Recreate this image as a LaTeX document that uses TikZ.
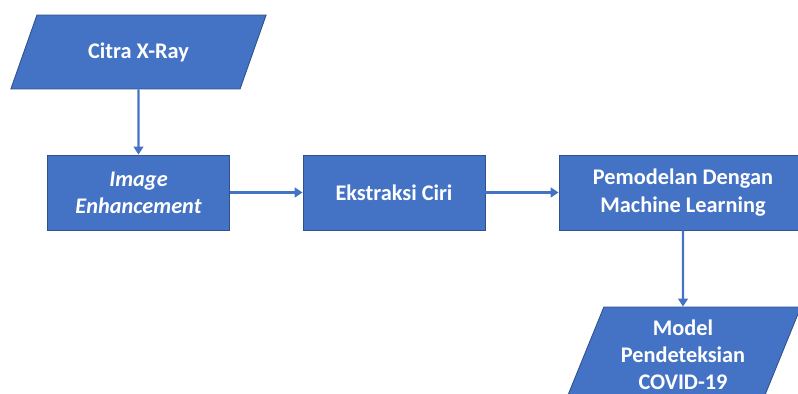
\documentclass[tikz,border=0pt]{standalone}
\usepackage{fontspec}
\setmainfont{Carlito}
\usetikzlibrary{shapes.geometric,arrows.meta}
\definecolor{boxblue}{HTML}{4472C4}
\definecolor{edgeblue}{HTML}{2F528F}

\begin{document}
\begin{tikzpicture}[x=0.02cm, y=-0.02cm,
		proses/.style={rectangle, draw=edgeblue, fill=boxblue, line width=0.5pt, text=white,
			font=\fontsize{12.7}{15.5}\selectfont\bfseries, align=center,
			minimum width=3.64cm, minimum height=1.5cm, inner sep=0pt},
		io/.style={proses, trapezium, trapezium stretches=true},
		panah/.style={draw=boxblue, line width=1.4pt, -{Triangle[length=4.5pt,width=5.5pt]}}]
	\useasboundingbox (0,0) rectangle (798,394);
	\clip (0,0) rectangle (798,394);
		% masukan
		\node[io, trapezium left angle=56, trapezium right angle=124, minimum width=5.14cm, minimum height=1.48cm] (citra) at (138.5,52) {Citra X-Ray};
		% tahapan
		\node[proses] (enhance) at (138.5,192.5) {\itshape Image\\\itshape Enhancement};
		\node[proses] (ciri) at (394,192.5) {Ekstraksi Ciri};
		\node[proses, minimum width=4.96cm] (model) at (683,192.5) {Pemodelan Dengan\\Machine Learning};
		% keluaran
		\node[io, trapezium left angle=66.6, trapezium right angle=113.4, minimum width=4.72cm, minimum height=1.9cm] (deteksi) at (683,354.5) {Model\\Pendeteksian\\COVID-19};
		\draw[panah] (citra) -- (enhance);
		\draw[panah] (enhance) -- (ciri);
		\draw[panah] (ciri) -- (model);
		\draw[panah] (model) -- (deteksi);
	\end{tikzpicture}
\end{document}
